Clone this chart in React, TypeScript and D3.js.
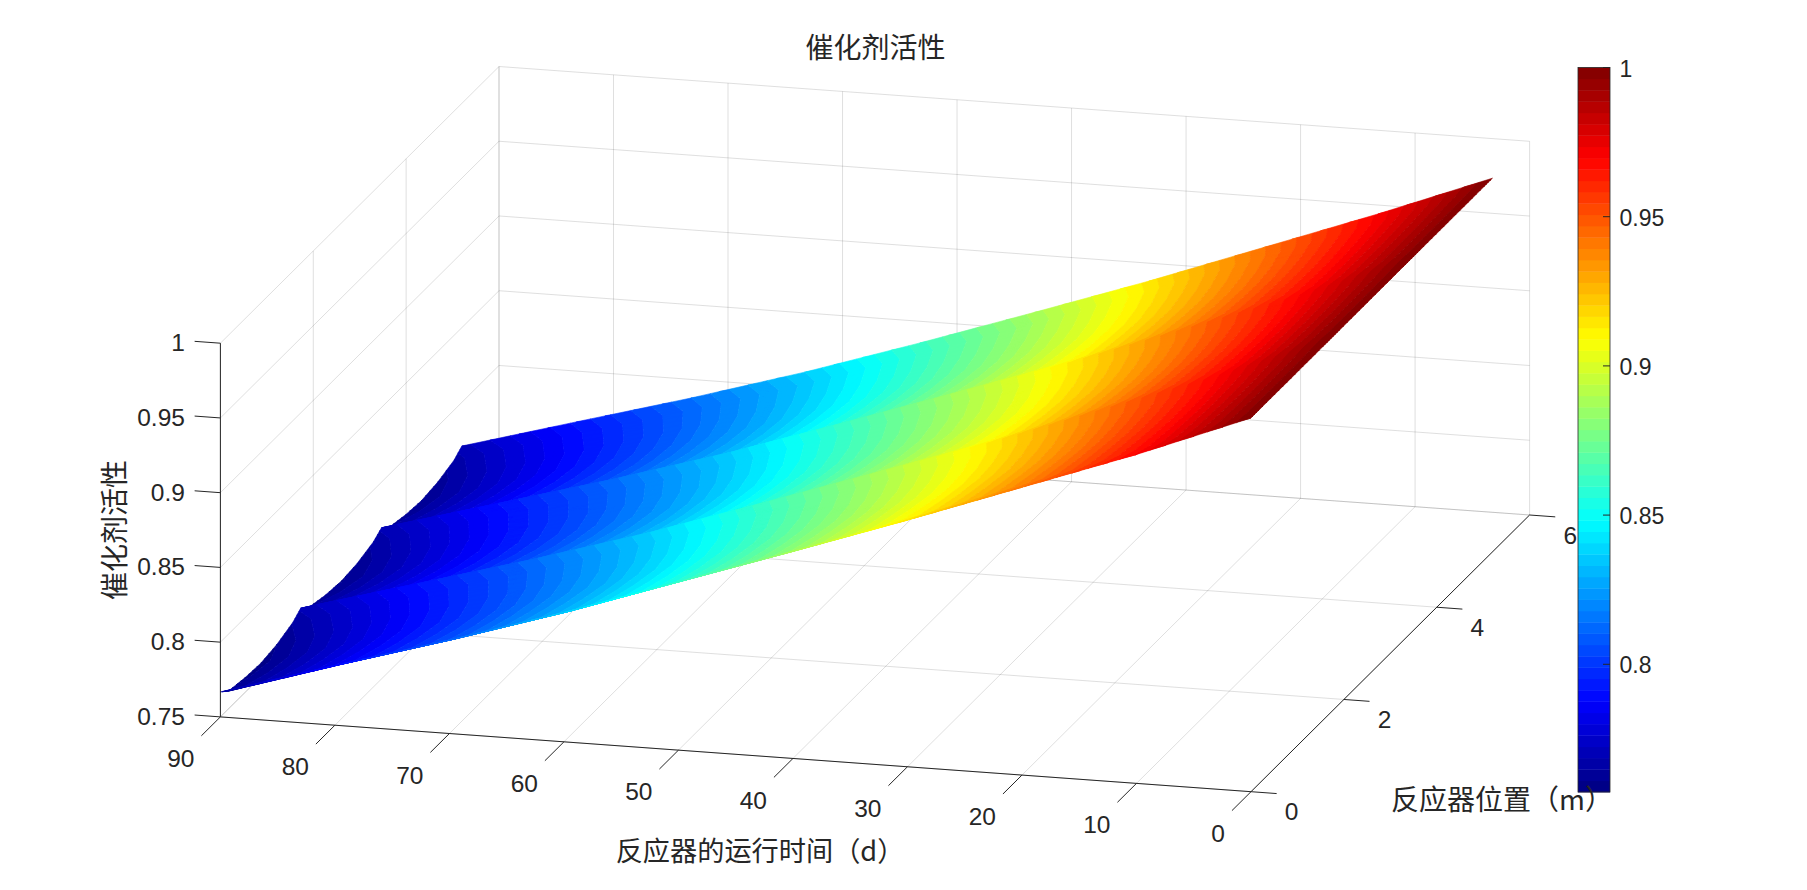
import React, { useEffect, useRef } from 'react';
import * as d3 from 'd3';

const timeTicks = [0, 10, 20, 30, 40, 50, 60, 70, 80, 90];
const positionTicks = [0, 2, 4, 6];
const activityTicks = [0.75, 0.8, 0.85, 0.9, 0.95, 1];
const colorbarTicks = [0.8, 0.85, 0.9, 0.95, 1];
const colorLimits = [0.7572, 1];

const title = '催化剂活性';
const timeLabel = '反应器的运行时间（d）';
const positionLabel = '反应器位置（m）';
const activityLabel = '催化剂活性';

// days, one column per entry of the rows below
const times = [0, 10, 20, 30, 40, 50, 60, 70, 80, 90];
// metres along the reactor (three beds)
const positions = [
    0, 0.17, 0.52, 0.87, 1.21, 1.56, 1.73,
    1.91, 2.25, 2.6, 2.94, 3.29, 3.47,
    3.64, 3.99, 4.33, 4.68, 5.03, 5.2
];

const activityRows = [
    [1, 0.970, 0.9425, 0.915, 0.8885, 0.8625, 0.8365, 0.8125, 0.790, 0.7667],
    [1, 0.9688, 0.9401, 0.912, 0.885, 0.8588, 0.8325, 0.8084, 0.7857, 0.762],
    [1, 0.968, 0.9387, 0.9102, 0.883, 0.8565, 0.8303, 0.8061, 0.7835, 0.7599],
    [1, 0.9675, 0.9378, 0.909, 0.8818, 0.8553, 0.829, 0.805, 0.7825, 0.7591],
    [1, 0.9676, 0.9381, 0.9094, 0.8824, 0.856, 0.8299, 0.8061, 0.7839, 0.7609],
    [1, 0.9682, 0.9394, 0.911, 0.8845, 0.8583, 0.8325, 0.8091, 0.7873, 0.7651],
    [1, 0.969, 0.941, 0.913, 0.887, 0.861, 0.8355, 0.8125, 0.791, 0.7694],
    [1, 0.9679, 0.9388, 0.9102, 0.8837, 0.8574, 0.8317, 0.8084, 0.7866, 0.7645],
    [1, 0.9673, 0.9376, 0.9088, 0.8819, 0.8555, 0.8296, 0.8061, 0.7842, 0.7618],
    [1, 0.967, 0.937, 0.908, 0.881, 0.8545, 0.8285, 0.805, 0.783, 0.7605],
    [1, 0.9673, 0.9376, 0.9088, 0.8819, 0.8555, 0.8296, 0.8061, 0.7842, 0.7618],
    [1, 0.9681, 0.9392, 0.9108, 0.8843, 0.8581, 0.8324, 0.8091, 0.7874, 0.7654],
    [1, 0.969, 0.941, 0.913, 0.887, 0.861, 0.8355, 0.8125, 0.791, 0.7695],
    [1, 0.9681, 0.939, 0.9104, 0.8838, 0.8575, 0.8318, 0.8086, 0.7868, 0.7647],
    [1, 0.9678, 0.9381, 0.9093, 0.8822, 0.8558, 0.83, 0.8066, 0.7847, 0.7622],
    [1, 0.9678, 0.9378, 0.9088, 0.8815, 0.855, 0.8293, 0.806, 0.7838, 0.7611],
    [1, 0.9683, 0.9387, 0.9098, 0.8826, 0.8562, 0.8306, 0.8072, 0.7852, 0.7627],
    [1, 0.9692, 0.9406, 0.9119, 0.8846, 0.8586, 0.833, 0.8103, 0.7888, 0.7665],
    [1, 0.9705, 0.9425, 0.9145, 0.888, 0.862, 0.837, 0.814, 0.7925, 0.7708]
];

const LEVELS = 64;
const SHADE_STEPS = 4; // shading subdivision of a mesh cell, like shading interp
const INK = '#262626';
const LATIN = '"Liberation Sans", Arial, sans-serif';
const CJK = '"Noto Sans CJK SC", "Liberation Sans", sans-serif';

// MATLAB style view: a fixed axonometric projection, one scale per screen component
const originX = 1251;
const originY = 791.7;
const timeToX = d3.scaleLinear().domain([0, 90]).range([0, -1030.6]);
const timeToY = d3.scaleLinear().domain([0, 90]).range([0, -74.8]);
const posToX = d3.scaleLinear().domain([0, 6]).range([0, 278.6]);
const posToY = d3.scaleLinear().domain([0, 6]).range([0, -276.7]);
const activityToY = d3.scaleLinear().domain([0.75, 1]).range([0, -373.7]);

const project = (t: number, p: number, a: number): [number, number] => [
    originX + timeToX(t) + posToX(p),
    originY + timeToY(t) + posToY(p) + activityToY(a)
];

const levelScale = d3.scaleLinear().domain(colorLimits).range([0, LEVELS]);
const barScale = d3.scaleLinear().domain(colorLimits).range([792, 67.5]);

const jetColour = (level: number) => {
    const v = (level + 0.5) / LEVELS;
    const c = (n: number) => Math.round(Math.max(0, Math.min(1, n)) * 255);
    return d3.rgb(
        c(Math.min(4 * v - 1.5, -4 * v + 4.5)),
        c(Math.min(4 * v - 0.5, -4 * v + 3.5)),
        c(Math.min(4 * v + 0.5, -4 * v + 2.5))
    ).formatHex();
};

type Vertex = { x: number, y: number, l: number };

// keep the part of a polygon on one side of a colour level
const clip = (poly: Vertex[], level: number, keepAbove: boolean) => {
    const out: Vertex[] = [];
    const inside = (v: Vertex) => keepAbove ? v.l >= level : v.l <= level;
    poly.forEach((a, i) => {
        const b = poly[(i + 1) % poly.length];
        if (inside(a)) out.push(a);
        if (inside(a) !== inside(b)) {
            const k = (level - a.l) / (b.l - a.l);
            out.push({ x: a.x + (b.x - a.x) * k, y: a.y + (b.y - a.y) * k, l: level });
        }
    });
    return out;
};

const buildBands = () => {
    const paths = d3.range(LEVELS).map(() => d3.path());
    const addTriangle = (tri: Vertex[]) => {
        const ls = tri.map(v => v.l);
        const lo = Math.max(0, Math.floor(Math.min(...ls)));
        const hi = Math.min(LEVELS - 1, Math.floor(Math.max(...ls)));
        for (let level = lo; level <= hi; level++) {
            let poly = level === 0 ? tri : clip(tri, level, true);
            if (level < LEVELS - 1) poly = clip(poly, level + 1, false);
            if (poly.length < 3) continue;
            const path = paths[level];
            poly.forEach((v, n) => n ? path.lineTo(v.x, v.y) : path.moveTo(v.x, v.y));
            path.closePath();
        }
    };
    for (let i = 0; i < positions.length - 1; i++) {
        for (let j = 0; j < times.length - 1; j++) {
            // bilinear shading inside the cell, the mesh itself stays as read
            const vertex = (u: number, v: number): Vertex => {
                const t = d3.interpolateNumber(times[j], times[j + 1])(v);
                const p = d3.interpolateNumber(positions[i], positions[i + 1])(u);
                const a = d3.interpolateNumber(
                    d3.interpolateNumber(activityRows[i][j], activityRows[i][j + 1])(v),
                    d3.interpolateNumber(activityRows[i + 1][j], activityRows[i + 1][j + 1])(v)
                )(u);
                const [x, y] = project(t, p, a);
                return { x, y, l: levelScale(a) };
            };
            for (let m = 0; m < SHADE_STEPS; m++) {
                for (let n = 0; n < SHADE_STEPS; n++) {
                    const u0 = m / SHADE_STEPS, u1 = (m + 1) / SHADE_STEPS;
                    const v0 = n / SHADE_STEPS, v1 = (n + 1) / SHADE_STEPS;
                    const a = vertex(u0, v0), b = vertex(u0, v1), c = vertex(u1, v1), d = vertex(u1, v0);
                    addTriangle([a, b, c]);
                    addTriangle([a, c, d]);
                }
            }
        }
    }
    return paths.map(p => p.toString());
};

export default function App() {
    const ref = useRef<SVGSVGElement>(null);

    useEffect(() => {
        const svg = d3.select(ref.current);
        svg.selectAll('*').remove();

        const line = (parent: any, from: [number, number], to: [number, number]) =>
            parent.append('line')
                .attr('x1', from[0]).attr('y1', from[1])
                .attr('x2', to[0]).attr('y2', to[1]);

        // Grid on the floor and the two walls
        const grid = svg.append('g')
            .attr('stroke', INK)
            .attr('stroke-opacity', 0.15)
            .attr('stroke-width', 1);
        const [tMin, tMax] = [0, 90];
        const [pMin, pMax] = [0, 6];
        const [aMin, aMax] = [0.75, 1];
        timeTicks.forEach(t => {
            line(grid, project(t, pMin, aMin), project(t, pMax, aMin));
            line(grid, project(t, pMax, aMin), project(t, pMax, aMax));
        });
        positionTicks.forEach(p => {
            line(grid, project(tMin, p, aMin), project(tMax, p, aMin));
            line(grid, project(tMax, p, aMin), project(tMax, p, aMax));
        });
        activityTicks.forEach(a => {
            line(grid, project(tMax, pMin, a), project(tMax, pMax, a));
            line(grid, project(tMax, pMax, a), project(tMin, pMax, a));
        });

        // Surface, one path per colormap level
        svg.append('g')
            .selectAll('path')
            .data(buildBands())
            .join('path')
            .attr('d', d => d)
            .attr('fill', (_, i) => jetColour(i))
            .attr('stroke', (_, i) => jetColour(i))
            .attr('stroke-width', 0.6)
            .attr('stroke-linejoin', 'round');

        // Axes and tick marks
        const axes = svg.append('g').attr('stroke', INK).attr('stroke-width', 1);
        line(axes, project(tMin, pMin, aMin), project(tMax, pMin, aMin));
        line(axes, project(tMin, pMin, aMin), project(tMin, pMax, aMin));
        line(axes, project(tMax, pMin, aMin), project(tMax, pMin, aMax));
        timeTicks.forEach(t => line(axes, project(t, pMin, aMin), project(t, -0.41, aMin)));
        positionTicks.forEach(p => line(axes, project(tMin, p, aMin), project(-2.24, p, aMin)));
        activityTicks.forEach(a => line(axes, project(tMax, pMin, a), project(92.25, pMin, a)));

        const labels = svg.append('g')
            .attr('font-family', LATIN)
            .attr('font-size', 24.5)
            .attr('fill', INK)
            .attr('dominant-baseline', 'central');
        timeTicks.forEach(t => {
            const [x, y] = project(t, pMin, aMin);
            labels.append('text')
                .attr('x', x - 26).attr('y', y + 41.6)
                .attr('text-anchor', 'end')
                .text(t);
        });
        positionTicks.forEach(p => {
            const [x, y] = project(tMin, p, aMin);
            labels.append('text')
                .attr('x', x + 40.6).attr('y', y + 20)
                .attr('text-anchor', 'middle')
                .text(p);
        });
        activityTicks.forEach(a => {
            const [x, y] = project(tMax, pMin, a);
            labels.append('text')
                .attr('x', x - 35.5).attr('y', y - 0.5)
                .attr('text-anchor', 'end')
                .text(a);
        });

        // Colorbar
        const bar = svg.append('g');
        bar.selectAll('rect')
            .data(d3.range(LEVELS))
            .join('rect')
            .attr('x', 1578)
            .attr('width', 32)
            .attr('y', d => barScale(levelScale.invert(d + 1)))
            .attr('height', (barScale(colorLimits[0]) - barScale(colorLimits[1])) / LEVELS + 0.4)
            .attr('fill', d => jetColour(d));
        bar.append('rect')
            .attr('x', 1578).attr('y', 67.5)
            .attr('width', 32).attr('height', 724.5)
            .attr('fill', 'none')
            .attr('stroke', INK)
            .attr('stroke-width', 0.8);
        colorbarTicks.forEach(v => {
            line(bar, [1603, barScale(v)], [1610, barScale(v)]).attr('stroke', INK);
            labels.append('text')
                .attr('x', 1619.5).attr('y', barScale(v) + 1)
                .attr('font-size', 23)
                .text(v);
        });

        // Titles
        const titles = svg.append('g')
            .attr('font-family', CJK)
            .attr('font-size', 28)
            .attr('fill', INK)
            .attr('text-anchor', 'middle')
            .attr('dominant-baseline', 'central');
        titles.append('text').attr('x', 875.5).attr('y', 46).text(title);
        titles.append('text').attr('x', 760).attr('y', 849).attr('font-size', 27.2).text(timeLabel);
        titles.append('text').attr('x', 1502).attr('y', 798).text(positionLabel);
        titles.append('text')
            .attr('transform', 'translate(113,530) rotate(-90)')
            .text(activityLabel);
    }, []);

    return (
        <svg
            ref={ref}
            width={1807}
            height={890}
            viewBox="0 0 1807 890"
            style={{ position: 'absolute', left: 0, top: 0, display: 'block', background: '#fff' }}
        />
    );
}
